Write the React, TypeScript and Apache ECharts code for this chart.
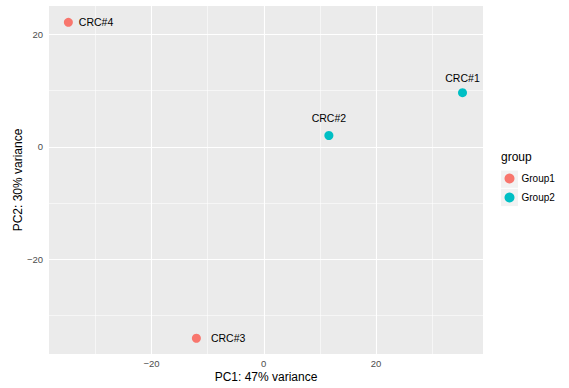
import React, { useEffect, useRef } from "react";
import * as echarts from "echarts";

// ---- data ----
const sampleNames = ["CRC#1", "CRC#2", "CRC#3", "CRC#4"];
const sampleGroups = ["Group2", "Group2", "Group1", "Group1"];
const pc1Values = [35.4, 11.6, -12.0, -34.8];
const pc2Values = [9.6, 2.0, -34.0, 22.1];
const groupNames = ["Group1", "Group2"];
const groupColors = ["#F8766D", "#00BFC4"];
const xMajorTicks = [-20, 0, 20];
const xMinorTicks = [-30, -10, 10, 30];
const yMajorTicks = [-20, 0, 20];
const yMinorTicks = [-30, -10, 10];
const xTitle = "PC1: 47% variance";
const yTitle = "PC2: 30% variance";
const legendTitle = "group";

// label placement (style, not data)
const labelPlacement: Record<string, { position: string; distance: number }> = {
  "CRC#1": { position: "top", distance: 5 },
  "CRC#2": { position: "top", distance: 8 },
  "CRC#3": { position: "right", distance: 10 },
  "CRC#4": { position: "right", distance: 6 },
};

const FONT = "'Liberation Sans', Arial, Helvetica, sans-serif";
const fmt = (v: number) => (v < 0 ? "\u2212" + Math.abs(v) : String(v));

export default function App() {
  const ref = useRef<HTMLDivElement>(null);
  useEffect(() => {
    if (!ref.current) return;
    const chart = echarts.init(ref.current, null, { renderer: "svg" });

    const gridLines: any[] = [];
    xMinorTicks.forEach((v) =>
      gridLines.push({ xAxis: v, lineStyle: { color: "#FFFFFF", width: 0.55, type: "solid" } })
    );
    yMinorTicks.forEach((v) =>
      gridLines.push({ yAxis: v, lineStyle: { color: "#FFFFFF", width: 0.55, type: "solid" } })
    );
    xMajorTicks.forEach((v) =>
      gridLines.push({ xAxis: v, lineStyle: { color: "#FFFFFF", width: 1.1, type: "solid" } })
    );
    yMajorTicks.forEach((v) =>
      gridLines.push({ yAxis: v, lineStyle: { color: "#FFFFFF", width: 1.1, type: "solid" } })
    );

    const groupSeries = groupNames.map((g, gi) => ({
      name: g,
      type: "scatter",
      z: 3,
      symbol: "circle",
      symbolSize: 9,
      itemStyle: { color: groupColors[gi], opacity: 1 },
      data: sampleNames
        .map((n, i) => ({ n, i }))
        .filter(({ i }) => sampleGroups[i] === g)
        .map(({ n, i }) => ({
          name: n,
          value: [pc1Values[i], pc2Values[i]],
          label: {
            show: true,
            formatter: n,
            position: labelPlacement[n].position,
            distance: labelPlacement[n].distance,
            color: "#000000",
            fontSize: 10.5,
            fontFamily: FONT,
          },
        })),
    }));

    chart.setOption({
      animation: false,
      backgroundColor: "#FFFFFF",
      textStyle: { fontFamily: FONT },
      grid: {
        left: 49,
        right: 86,
        top: 6,
        bottom: 34,
        show: true,
        backgroundColor: "#EBEBEB",
        borderWidth: 0,
        containLabel: false,
      },
      xAxis: {
        type: "value",
        min: -38.25,
        max: 39.05,
        name: xTitle,
        nameLocation: "middle",
        nameGap: 17,
        nameMoveOverlap: false,
        nameTextStyle: { color: "#000000", fontSize: 12, fontFamily: FONT },
        axisLine: { show: false },
        axisTick: {
          show: true,
          customValues: xMajorTicks,
          length: 3,
          lineStyle: { color: "#333333", width: 1 },
        },
        axisLabel: {
          show: true,
          customValues: xMajorTicks,
          formatter: fmt,
          color: "#4D4D4D",
          fontSize: 9.5,
          margin: 4,
          fontFamily: FONT,
        },
        splitLine: { show: false },
      },
      yAxis: {
        type: "value",
        min: -36.8,
        max: 25.0,
        name: yTitle,
        nameLocation: "middle",
        nameGap: 25,
        nameMoveOverlap: false,
        nameTextStyle: { color: "#000000", fontSize: 12, fontFamily: FONT },
        axisLine: { show: false },
        axisTick: {
          show: true,
          customValues: yMajorTicks,
          length: 3,
          lineStyle: { color: "#333333", width: 1 },
        },
        axisLabel: {
          show: true,
          customValues: yMajorTicks,
          formatter: fmt,
          color: "#4D4D4D",
          fontSize: 9.5,
          margin: 6,
          fontFamily: FONT,
        },
        splitLine: { show: false },
      },
      legend: {
        data: groupNames.map((g) => ({ name: g, icon: "circle" })),
        orient: "vertical",
        left: 504.5,
        top: 173.5,
        padding: 0,
        itemWidth: 10,
        itemHeight: 10,
        itemGap: 9,
        selectedMode: false,
        textStyle: {
          color: "#000000",
          fontSize: 10,
          lineHeight: 10,
          fontFamily: FONT,
          padding: [0, 0, 0, 2],
        },
      },
      graphic: [
        {
          type: "text",
          left: 501,
          top: 151,
          z: 5,
          style: { text: legendTitle, fill: "#000000", fontSize: 12, fontFamily: FONT },
        },
        {
          type: "rect",
          left: 501,
          top: 170.5,
          z: 1,
          shape: { width: 17, height: 17.3 },
          style: { fill: "#F2F2F2" },
        },
        {
          type: "rect",
          left: 501,
          top: 188.8,
          z: 1,
          shape: { width: 17, height: 17.3 },
          style: { fill: "#F2F2F2" },
        },
      ],
      series: [
        {
          name: "__grid",
          type: "scatter",
          z: 1,
          silent: true,
          data: [],
          markLine: {
            z: 1,
            silent: true,
            symbol: ["none", "none"],
            label: { show: false },
            emphasis: { disabled: true },
            animation: false,
            data: gridLines,
          },
        },
        ...groupSeries,
      ],
    });
    return () => chart.dispose();
  }, []);
  return (
    <div
      ref={ref}
      style={{ position: "fixed", left: 0, top: 0, width: 569, height: 388 }}
    />
  );
}
